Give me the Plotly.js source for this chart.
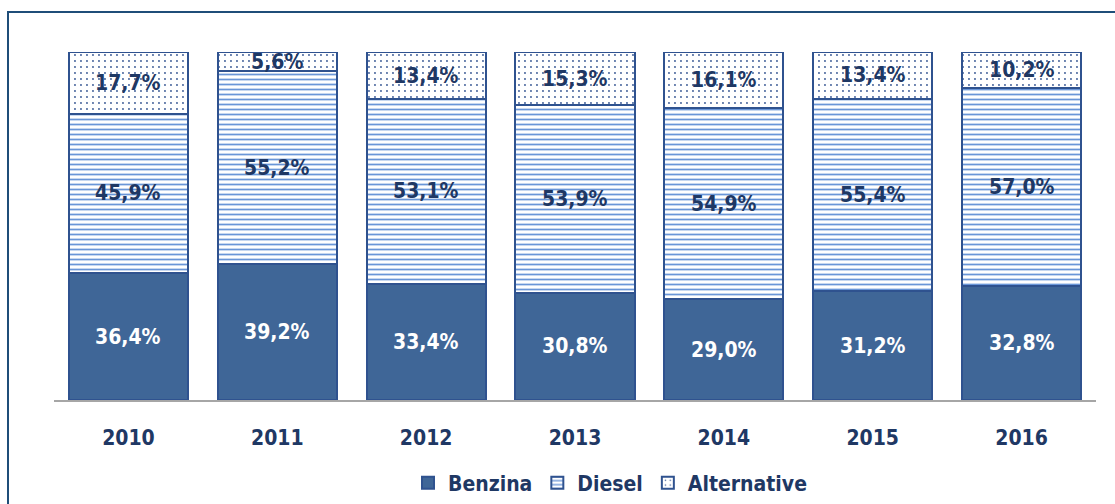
<!DOCTYPE html>
<html>
<head>
<meta charset="utf-8">
<script src="https://cdn.plot.ly/plotly-3.0.1.min.js"></script>
<style>
html,body{margin:0;padding:0;background:#fff;}
#chart{width:1115px;height:504px;}
</style>
</head>
<body>
<div id="chart"></div>
<script>
const years = ['2010','2011','2012','2013','2014','2015','2016'];
const benzina = [36.4, 39.2, 33.4, 30.8, 29.0, 31.2, 32.8];
const diesel = [45.9, 55.2, 53.1, 53.9, 54.9, 55.4, 57.0];
const alternative = [17.7, 5.6, 13.4, 15.3, 16.1, 13.4, 10.2];
const seriesNames = ['Benzina', 'Diesel', 'Alternative'];

const FONT = '"Liberation Sans Narrow", "Arial Narrow", "DejaVu Sans Condensed", sans-serif';
const NAVY = '#1F3864';
const OUTLINE = '#2F528F';

function fmt(v){ return v.toFixed(1).replace('.', ',') + '%'; }

const traces = [
  {type:'bar', name:seriesNames[0], x:years, y:benzina,
   marker:{color:'#3F6697', line:{color:OUTLINE, width:2}}, hoverinfo:'skip'},
  {type:'bar', name:seriesNames[1], x:years, y:diesel,
   marker:{color:'#ffffff', line:{color:OUTLINE, width:2},
     pattern:{shape:'-', fgcolor:'#6A96D8', bgcolor:'#ffffff', size:5, solidity:0.35}}, hoverinfo:'skip'},
  {type:'bar', name:seriesNames[2], x:years, y:alternative,
   marker:{color:'#ffffff', line:{color:OUTLINE, width:2},
     pattern:{shape:'.', fgcolor:'#3A5A95', bgcolor:'#ffffff', size:6, solidity:0.08}}, hoverinfo:'skip'}
];

const LBL = 21;
const annotations = [];
years.forEach((yr, i) => {
  const b = benzina[i], d = diesel[i], a = alternative[i];
  annotations.push({x:i, y:b/2, text:fmt(b), showarrow:false, xref:'x', yref:'y',
    font:{family:FONT, size:LBL, color:'#ffffff', weight:'bold'}});
  annotations.push({x:i, y:b + d/2, text:fmt(d), showarrow:false, xref:'x', yref:'y',
    font:{family:FONT, size:LBL, color:NAVY, weight:'bold'}});
  annotations.push({x:i, y:b + d + a/2, text:fmt(a), showarrow:false, xref:'x', yref:'y',
    font:{family:FONT, size:LBL, color:NAVY, weight:'bold'}});
});

const L = 54, R = 19, T = 52, B = 104;
const PW = 1115 - L - R, PH = 504 - T - B;
function px2x(px){ return (px - L) / PW; }
function py2y(py){ return (504 - B - py) / PH; }

const layout = {
  width:1115, height:504,
  margin:{l:L, r:R, t:T, b:B},
  paper_bgcolor:'#ffffff', plot_bgcolor:'#ffffff',
  barmode:'stack', bargap:0.2,
  showlegend:true,
  legend:{orientation:'h', traceorder:'normal', xref:'container', yref:'container',
    x:610/1115, xanchor:'center', y:(504-483)/504, yanchor:'middle',
    font:{family:FONT, size:21, color:NAVY, weight:'bold'}, itemwidth:30, tracegroupgap:0},
  xaxis:{type:'category', range:[-0.5, years.length - 0.5], showline:true, linecolor:'#A6A6A6', linewidth:1.5,
    ticks:'', showgrid:false, zeroline:false, ticklabelstandoff:18,
    tickfont:{family:FONT, size:21, color:NAVY, weight:'bold'}},
  yaxis:{range:[0,100], visible:false, showgrid:false, zeroline:false, fixedrange:true},
  annotations:annotations,
  shapes:[{type:'rect', xref:'paper', yref:'paper',
    x0:px2x(8), x1:px2x(1135), y0:py2y(530), y1:py2y(12),
    line:{color:'#1F4E79', width:2}, fillcolor:'rgba(0,0,0,0)', layer:'above'}]
};

Plotly.newPlot('chart', traces, layout, {staticPlot:true, displayModeBar:false});
</script>
</body>
</html>
